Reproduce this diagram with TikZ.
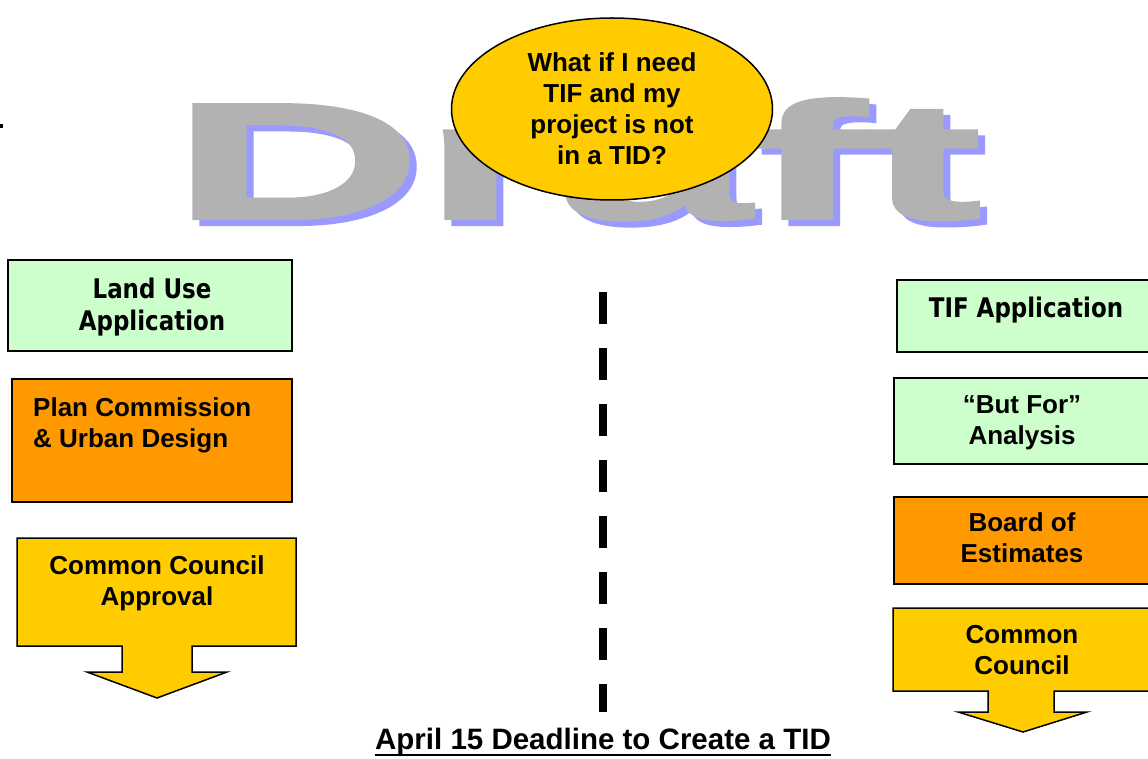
\documentclass[tikz,border=0pt]{standalone}
\usepackage{fontspec}
\setmainfont{Liberation Sans}
\newfontfamily\tahoma{DejaVu Sans}[FakeStretch=0.85]
\newfontfamily\draftfont{Liberation Sans}[FakeStretch=2.12, BoldFeatures={FakeBold=2.5}]
\usetikzlibrary{shapes.geometric}
\definecolor{mint}{HTML}{CCFFCC}
\definecolor{amber}{HTML}{FF9900}
\definecolor{gold}{HTML}{FFCC00}
\definecolor{draftgray}{HTML}{B2B2B2}
\definecolor{draftblue}{HTML}{9999FF}

\begin{document}
\begin{tikzpicture}[x=1pt, y=-1pt,
    box/.style = {draw=black, line width=1.5pt, inner sep=0pt, outer sep=0pt, anchor=north west},
    lbl/.style = {inner sep=0pt, align=center, font=\fontsize{26}{31}\selectfont\bfseries},
    tlbl/.style = {inner sep=0pt, align=center, font=\fontsize{27}{32}\selectfont\tahoma\bfseries},
    shaft/.style = {draw=black, line width=1.5pt, fill=gold},
    wm/.style = {inner sep=0pt, anchor=base west, font=\fontsize{164}{164}\selectfont\draftfont\bfseries}]
  \useasboundingbox (0,0) rectangle (1148,759);
  \clip (0,0) rectangle (1148,759);
  \fill (0,124) rectangle (3,128);
  % watermark
  \node[wm, draftblue] (draftshadow) at (178,224) {Draft};
  \node[wm, draftgray] (draft) at (171,218) {Draft};
  \node[ellipse, draw=black, line width=1.5pt, fill=gold, minimum width=321, minimum height=182,
        inner sep=0pt, align=center, font=\fontsize{26}{31}\selectfont\bfseries] (question) at (612,109)
    {What if I need\\TIF and my\\project is not\\in a TID?};
  % left column
  \node[box, fill=mint, minimum width=284, minimum height=91] (landuse) at (8,260) {}; % top
  \node[box, fill=amber, minimum width=280, minimum height=123] (plancomm) at (12,379) {}; % middle
  \draw[shaft] (17,538) -- (296,538) -- (296,646) -- (192,646) -- (192,672) -- (227,672)
    -- (157,698) -- (87,672) -- (122,672) -- (122,646) -- (17,646) -- cycle; % bottom
  \node[tlbl] (landusetext) at (152,307) {Land Use\\Application};
  \node[lbl, align=left, anchor=west] (plancommtext) at (33,425) {Plan Commission\\\& Urban Design};
  \node[lbl] (approvaltext) at (157,583) {Common Council\\Approval};
  % right column
  \node[box, fill=mint, minimum width=260, minimum height=72] (tifapp) at (897,280) {};
  \node[box, fill=mint, minimum width=260, minimum height=86] (butfor) at (894,378) {};
  \node[box, fill=amber, minimum width=260, minimum height=87] (board) at (894,497) {};
  \draw[shaft] (893,608) -- (1153,608) -- (1153,691) -- (1054,691) -- (1054,712) -- (1087,712)
    -- (1023,732) -- (958,712) -- (988,712) -- (988,691) -- (893,691) -- cycle;
  \node[tlbl] (tifapptext) at (1026,310) {TIF Application};
  \node[lbl] (butfortext) at (1022,423) {“But For”\\Analysis};
  \node[lbl] (boardtext) at (1022,538) {Board of\\Estimates};
  \node[lbl] (counciltext) at (1022,650) {Common\\Council};
  % divider and deadline
  \coordinate (divtop) at (603,292);
  \coordinate (divbot) at (603,712);
  \draw[line width=8pt, dash pattern=on 32pt off 24pt] (divtop) -- (divbot);
  \node[inner sep=0pt, anchor=base, font=\fontsize{29.5}{32}\selectfont\bfseries] (deadline) at (603,749)
    {April 15 Deadline to Create a TID};
  \draw[line width=2.5pt] ([yshift=-6pt]deadline.base west) -- ([yshift=-6pt]deadline.base east);
\end{tikzpicture}
\end{document}
